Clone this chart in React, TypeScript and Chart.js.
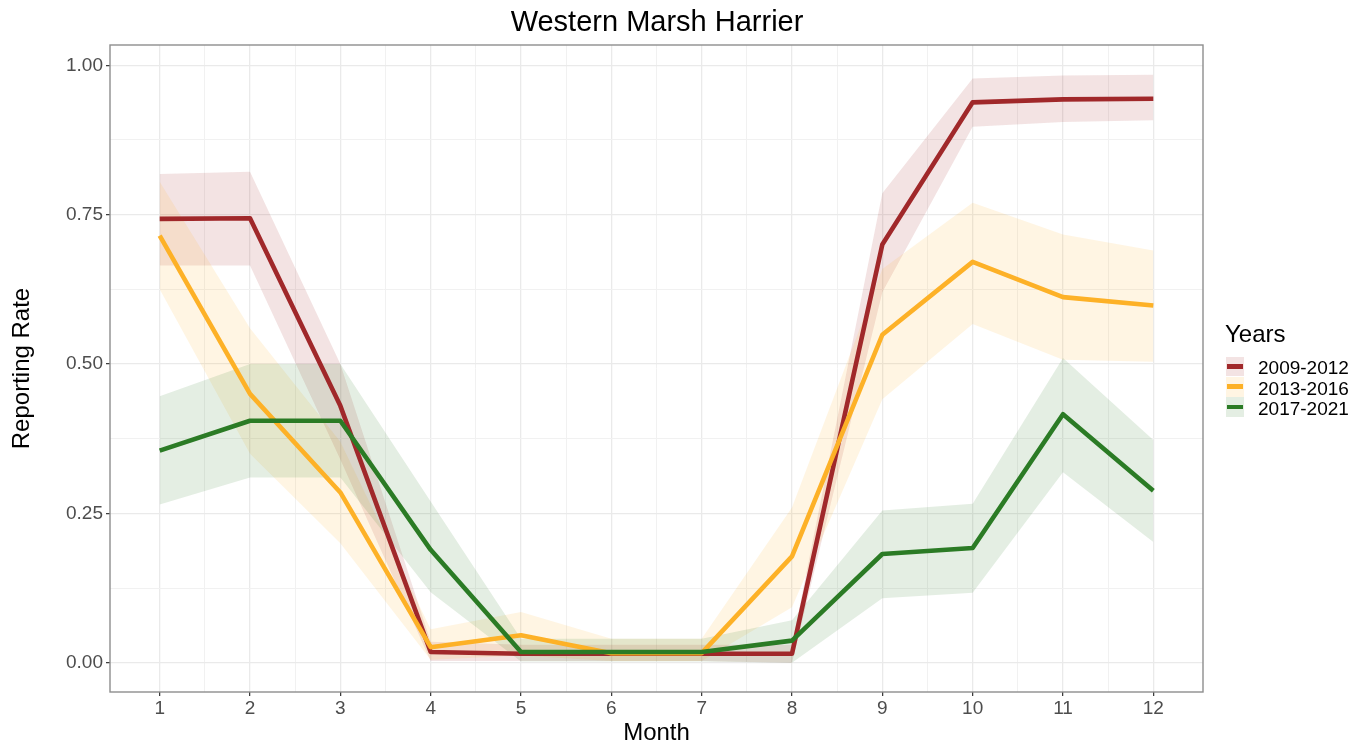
import React, { useEffect, useRef } from 'react';
import { Chart, registerables } from 'chart.js';

Chart.register(...registerables);

const FONT = '"Liberation Sans", Arial, Helvetica, sans-serif';

// ---- data ----
const months = [1, 2, 3, 4, 5, 6, 7, 8, 9, 10, 11, 12];
const seriesNames = ['2009-2012', '2013-2016', '2017-2021'];
const seriesColors = ['#A0282A', '#FDB127', '#2B7B25'];

const rate2009 = [0.743, 0.744, 0.43, 0.018, 0.015, 0.015, 0.015, 0.015, 0.70, 0.938, 0.943, 0.944];
const upper2009 = [0.818, 0.822, 0.50, 0.035, 0.030, 0.030, 0.030, 0.030, 0.786, 0.978, 0.983, 0.984];
const lower2009 = [0.665, 0.665, 0.34, 0.003, 0.003, 0.003, 0.003, 0.000, 0.620, 0.897, 0.905, 0.908];

const rate2013 = [0.715, 0.45, 0.285, 0.026, 0.046, 0.016, 0.016, 0.178, 0.549, 0.671, 0.612, 0.598];
const upper2013 = [0.805, 0.560, 0.370, 0.056, 0.085, 0.040, 0.040, 0.260, 0.659, 0.770, 0.717, 0.690];
const lower2013 = [0.625, 0.350, 0.200, 0.005, 0.012, 0.003, 0.003, 0.093, 0.441, 0.567, 0.507, 0.504];

const rate2017 = [0.355, 0.405, 0.405, 0.189, 0.018, 0.018, 0.018, 0.037, 0.182, 0.192, 0.416, 0.288];
const upper2017 = [0.446, 0.500, 0.500, 0.270, 0.040, 0.040, 0.040, 0.071, 0.255, 0.266, 0.510, 0.373];
const lower2017 = [0.265, 0.310, 0.310, 0.118, 0.002, 0.002, 0.002, 0.000, 0.108, 0.117, 0.319, 0.202];

const yTickLabels = ['0.00', '0.25', '0.50', '0.75', '1.00'];
const yMajorTicks = [0, 0.25, 0.5, 0.75, 1.0];

const rates = [rate2009, rate2013, rate2017];
const uppers = [upper2009, upper2013, upper2017];
const lowers = [lower2009, lower2013, lower2017];

function rgba(hex: string, a: number) {
  const n = parseInt(hex.slice(1), 16);
  return `rgba(${(n >> 16) & 255},${(n >> 8) & 255},${n & 255},${a})`;
}

const RIBBON_ALPHA = 0.13;

const xTicks: number[] = months.flatMap((m, i) => (i < months.length - 1 ? [m, m + 0.5] : [m]));
const yTicks: number[] = yMajorTicks.flatMap((v, i) => (i < yMajorTicks.length - 1 ? [v, v + 0.125] : [v]));

const isMajorX = (v: number) => Math.abs(v - Math.round(v)) < 1e-9;
const isMajorY = (v: number) => yMajorTicks.some((t) => Math.abs(t - v) < 1e-9);

const panelBorder = {
  id: 'panelBorder',
  afterDatasetsDraw(chart: any) {
    const { ctx, chartArea } = chart;
    const { left, top, right, bottom } = chartArea;
    ctx.save();
    ctx.strokeStyle = '#8E8E8E';
    ctx.lineWidth = 1.4;
    ctx.strokeRect(left, top, right - left, bottom - top);
    ctx.restore();
  },
};

export default function App() {
  const canvasRef = useRef<HTMLCanvasElement | null>(null);

  useEffect(() => {
    if (!canvasRef.current) return;
    const toPts = (arr: number[]) => arr.map((y, i) => ({ x: months[i], y }));

    const datasets: any[] = [];
    seriesNames.forEach((name, s) => {
      datasets.push({
        label: name + ' lower',
        data: toPts(lowers[s]),
        borderColor: 'rgba(0,0,0,0)',
        backgroundColor: 'rgba(0,0,0,0)',
        borderWidth: 0,
        pointRadius: 0,
        fill: false,
        order: 30 - s * 10,
      });
      datasets.push({
        label: name + ' upper',
        data: toPts(uppers[s]),
        borderColor: 'rgba(0,0,0,0)',
        backgroundColor: rgba(seriesColors[s], RIBBON_ALPHA),
        borderWidth: 0,
        pointRadius: 0,
        fill: '-1',
        order: 30 - s * 10,
      });
    });
    seriesNames.forEach((name, s) => {
      datasets.push({
        label: name,
        data: toPts(rates[s]),
        borderColor: seriesColors[s],
        backgroundColor: seriesColors[s],
        borderWidth: 4.6,
        borderJoinStyle: 'round',
        borderCapStyle: 'butt',
        pointRadius: 0,
        tension: 0,
        fill: false,
        order: 3 - s,
      });
    });

    const chart = new Chart(canvasRef.current, {
      type: 'line',
      data: { datasets },
      plugins: [panelBorder],
      options: {
        animation: false,
        responsive: false,
        maintainAspectRatio: false,
        layout: { padding: { left: 0, top: 45, right: 167, bottom: 0 } },
        plugins: {
          legend: { display: false },
          title: { display: false },
          tooltip: { enabled: false },
        },
        scales: {
          x: {
            type: 'linear',
            min: 0.45,
            max: 12.55,
            afterBuildTicks: (scale: any) => {
              scale.ticks = xTicks.map((v) => ({ value: v }));
            },
            afterFit: (scale: any) => {
              scale.height = 54;
            },
            border: { display: false },
            grid: {
              color: (ctx: any) => (isMajorX(ctx.tick.value) ? '#EAEAEA' : '#F1F1F1'),
              lineWidth: (ctx: any) => (isMajorX(ctx.tick.value) ? 1.3 : 1),
              tickColor: (ctx: any) => (isMajorX(ctx.tick.value) ? '#333333' : 'rgba(0,0,0,0)'),
              tickLength: 4,
              tickWidth: 1.2,
              drawTicks: true,
            },
            ticks: {
              autoSkip: false,
              maxRotation: 0,
              padding: 1.5,
              color: '#4D4D4D',
              font: { family: FONT, size: 19 },
              callback: (v: any) => (isMajorX(Number(v)) ? String(Math.round(Number(v))) : ''),
            },
            title: {
              display: true,
              text: 'Month',
              color: '#000000',
              font: { family: FONT, size: 24 },
              padding: { top: 0, bottom: -1.5 },
            },
          },
          y: {
            type: 'linear',
            min: -0.049,
            max: 1.034,
            afterBuildTicks: (scale: any) => {
              scale.ticks = yTicks.map((v) => ({ value: v }));
            },
            afterFit: (scale: any) => {
              scale.width = 110;
            },
            border: { display: false },
            grid: {
              color: (ctx: any) => (isMajorY(ctx.tick.value) ? '#EAEAEA' : '#F1F1F1'),
              lineWidth: (ctx: any) => (isMajorY(ctx.tick.value) ? 1.3 : 1),
              tickColor: (ctx: any) => (isMajorY(ctx.tick.value) ? '#333333' : 'rgba(0,0,0,0)'),
              tickLength: 4,
              tickWidth: 1.2,
              drawTicks: true,
            },
            ticks: {
              autoSkip: false,
              padding: 3,
              color: '#4D4D4D',
              font: { family: FONT, size: 19 },
              callback: (v: any) => {
                const idx = yMajorTicks.findIndex((t) => Math.abs(t - Number(v)) < 1e-9);
                return idx >= 0 ? yTickLabels[idx] : '';
              },
            },
            title: {
              display: true,
              text: 'Reporting Rate',
              color: '#000000',
              font: { family: FONT, size: 24 },
              padding: { top: 8, bottom: 0 },
            },
          },
        },
      } as any,
    });
    return () => chart.destroy();
  }, []);

  const keyTops = [356.7, 377.0, 397.3];

  return (
    <div style={{ position: 'absolute', left: 0, top: 0, width: 1370, height: 746, background: '#ffffff', fontFamily: FONT }}>
      <canvas ref={canvasRef} width={1370} height={746} style={{ display: 'block', width: 1370, height: 746 }} />
      <div
        style={{
          position: 'absolute',
          left: 0,
          width: 1314,
          top: 7,
          textAlign: 'center',
          fontSize: 29,
          lineHeight: '29px',
          color: '#000',
          whiteSpace: 'nowrap',
        }}
      >
        Western Marsh Harrier
      </div>
      <div style={{ position: 'absolute', left: 1225, top: 321.5, fontSize: 24, lineHeight: '24px', color: '#000' }}>Years</div>
      {seriesNames.map((name, s) => (
        <React.Fragment key={name}>
          <div
            style={{
              position: 'absolute',
              left: 1225.7,
              top: keyTops[s],
              width: 18.6,
              height: 19.5,
              background: rgba(seriesColors[s], RIBBON_ALPHA),
            }}
          >
            <div
              style={{
                position: 'absolute',
                left: 1,
                right: 1,
                top: 7.3,
                height: 4.8,
                background: seriesColors[s],
              }}
            />
          </div>
          <div
            style={{
              position: 'absolute',
              left: 1258,
              top: keyTops[s] + 1.7,
              fontSize: 19,
              lineHeight: '20px',
              color: '#000',
              whiteSpace: 'nowrap',
            }}
          >
            {name}
          </div>
        </React.Fragment>
      ))}
    </div>
  );
}
